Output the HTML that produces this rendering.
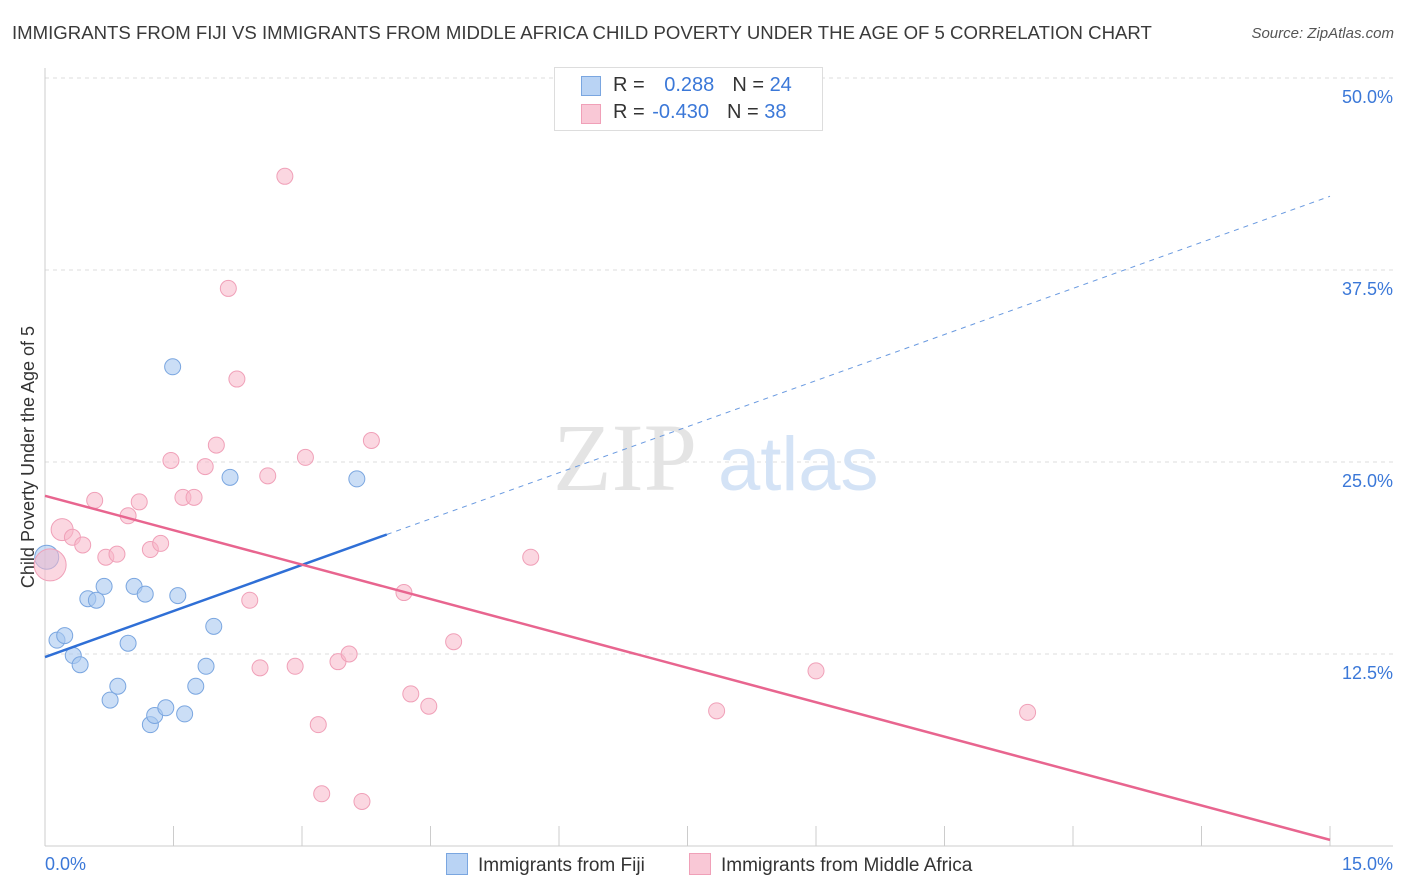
<!DOCTYPE html>
<html><head><meta charset="utf-8">
<style>
body{margin:0;background:#fff;font-family:"Liberation Sans",sans-serif;}
#wrap{position:relative;width:1406px;height:892px;overflow:hidden;}
.t{position:absolute;white-space:nowrap;}
</style></head>
<body>
<div id="wrap">
<div class="t" style="left:12px;top:22px;font-size:18.6px;color:#3a3a3a;">IMMIGRANTS FROM FIJI VS IMMIGRANTS FROM MIDDLE AFRICA CHILD POVERTY UNDER THE AGE OF 5 CORRELATION CHART</div>
<div class="t" style="right:12px;top:25px;font-size:15px;color:#555;font-style:italic;">Source: ZipAtlas.com</div>
<svg id="chart" width="1406" height="892" style="position:absolute;left:0;top:0"></svg>
</div>
<script>
const fijiX=[0.02,0.14,0.23,0.33,0.41,0.50,0.60,0.69,0.76,0.85,0.97,1.04,1.17,1.23,1.28,1.41,1.49,1.55,1.63,1.76,1.88,1.97,2.16,3.64];
const fijiY=[18.8,13.4,13.7,12.4,11.8,16.1,16.0,16.9,9.5,10.4,13.2,16.9,16.4,7.9,8.5,9.0,31.2,16.3,8.6,10.4,11.7,14.3,24.0,23.9];
const fijiR=[12,8,8,8,8,8,8,8,8,8,8,8,8,8,8,8,8,8,8,8,8,8,8,8];
const afrX=[0.06,0.20,0.32,0.44,0.58,0.71,0.84,0.97,1.10,1.23,1.35,1.47,1.61,1.74,1.87,2.00,2.14,2.24,2.39,2.51,2.60,2.80,2.92,3.04,3.19,3.23,3.42,3.55,3.70,3.81,4.19,4.27,4.48,4.77,5.67,7.84,9.00,11.47];
const afrY=[18.3,20.6,20.1,19.6,22.5,18.8,19.0,21.5,22.4,19.3,19.7,25.1,22.7,22.7,24.7,26.1,36.3,30.4,16.0,11.6,24.1,43.6,11.7,25.3,7.9,3.4,12.0,12.5,2.9,26.4,16.5,9.9,9.1,13.3,18.8,8.8,11.4,8.7];
const afrR=[16,11,8,8,8,8,8,8,8,8,8,8,8,8,8,8,8,8,8,8,8,8,8,8,8,8,8,8,8,8,8,8,8,8,8,8,8,8];
const fijiTrend=[12.3,42.3];
const fijiSolidEnd=3.99;
const afrTrend=[22.8,0.4];
const yTicks=[12.5,25.0,37.5,50.0];
const xTickVals=[0,1.5,3,4.5,6,7.5,9,10.5,12,13.5,15];

const X0=45,X1=1330,Y0=846,PXY=15.36;
const sx=v=>X0+(v/15)*(X1-X0);
const sy=v=>Y0-v*PXY;
const svg=document.getElementById('chart');
const NS='http://www.w3.org/2000/svg';
function mk(tag,attrs,parent){const e=document.createElementNS(NS,tag);for(const k in attrs)e.setAttribute(k,attrs[k]);(parent||svg).appendChild(e);return e;}

yTicks.forEach(v=>{
 const g=mk('line',{x1:X0,x2:1393,y1:sy(v),y2:sy(v),stroke:'#dcdcdc','stroke-dasharray':'4,4'});
 
 
 const t=mk('text',{x:1393,y:sy(v)+25,'text-anchor':'end','font-size':18,fill:'#3b78d8','font-family':'Liberation Sans, sans-serif'});
 t.textContent=v.toFixed(1)+'%';
 
 
});
const ya=mk('line',{x1:X0,x2:X0,y1:68,y2:Y0,stroke:'#ccc'});


const xa=mk('line',{x1:X0,x2:1393,y1:Y0,y2:Y0,stroke:'#ccc'});


xTickVals.forEach(v=>{
 const l=mk('line',{x1:sx(v),x2:sx(v),y1:826,y2:Y0,stroke:'#ccc'});
 
 
});
[['0.0%',45,'start'],['15.0%',1393,'end']].forEach(a=>{
 const t=mk('text',{x:a[1],y:870,'text-anchor':a[2],'font-size':18,fill:'#3b78d8','font-family':'Liberation Sans, sans-serif'});
 t.textContent=a[0];
 
 
});
const yt=mk('text',{x:0,y:0,transform:'translate(34,457) rotate(-90)','text-anchor':'middle','font-size':18,fill:'#333','font-family':'Liberation Sans, sans-serif'});
yt.textContent='Child Poverty Under the Age of 5';


const wm=mk('text',{x:553,y:490,'font-size':96,fill:'#e4e4e4','font-family':'Liberation Serif, serif'});
wm.textContent='ZIP';


const wm2=mk('text',{x:718,y:490,'font-size':76,fill:'#d4e3f6','font-family':'Liberation Sans, sans-serif'});
wm2.textContent='atlas';



fijiX.forEach((x,i)=>{
 const c=mk('circle',{cx:sx(x),cy:sy(fijiY[i]),r:fijiR[i],fill:'rgba(169,200,240,0.6)',stroke:'#7aa6e0','stroke-width':1});
 
 
});
afrX.forEach((x,i)=>{
 const c=mk('circle',{cx:sx(x),cy:sy(afrY[i]),r:afrR[i],fill:'rgba(247,183,201,0.55)',stroke:'#f0a0b8','stroke-width':1});
 
 
});
const fy=x=>fijiTrend[0]+(fijiTrend[1]-fijiTrend[0])*x/15;
const l1=mk('line',{x1:sx(0),y1:sy(fy(0)),x2:sx(fijiSolidEnd),y2:sy(fy(fijiSolidEnd)),stroke:'#2f6fd6','stroke-width':2.5});


const l2=mk('line',{x1:sx(fijiSolidEnd),y1:sy(fy(fijiSolidEnd)),x2:sx(15),y2:sy(fy(15)),stroke:'#6a9ae0','stroke-width':1,'stroke-dasharray':'5,5'});


const l3=mk('line',{x1:sx(0),y1:sy(afrTrend[0]),x2:sx(15),y2:sy(afrTrend[1]),stroke:'#e8658f','stroke-width':2.5});


</script>
<div class="t" style="left:554px;top:67px;width:267px;height:62px;border:1px solid #ddd;background:#fff;font-size:20px;color:#333;">
 <div style="position:absolute;left:26px;top:8px;width:18px;height:18px;background:#b9d3f4;border:1px solid #7aa6e0;"></div>
 <div style="position:absolute;left:58px;top:6px;">R = <span style="color:#3b78d8;margin-left:14px">0.288</span><span style="margin-left:18px">N = </span><span style="color:#3b78d8">24</span></div>
 <div style="position:absolute;left:26px;top:36px;width:18px;height:18px;background:#f9c8d6;border:1px solid #f0a0b8;"></div>
 <div style="position:absolute;left:58px;top:33px;">R = <span style="color:#3b78d8;margin-left:2px">-0.430</span><span style="margin-left:18px">N = </span><span style="color:#3b78d8">38</span></div>
</div>
<div class="t" style="left:446px;top:853px;font-size:19px;color:#333;">
 <span style="display:inline-block;width:20px;height:20px;background:#b9d3f4;border:1px solid #7aa6e0;vertical-align:-4px;margin-right:10px"></span>Immigrants from Fiji</div>
<div class="t" style="left:689px;top:853px;font-size:19px;color:#333;">
 <span style="display:inline-block;width:20px;height:20px;background:#f9c8d6;border:1px solid #f0a0b8;vertical-align:-4px;margin-right:10px"></span>Immigrants from Middle Africa</div>
</body></html>
